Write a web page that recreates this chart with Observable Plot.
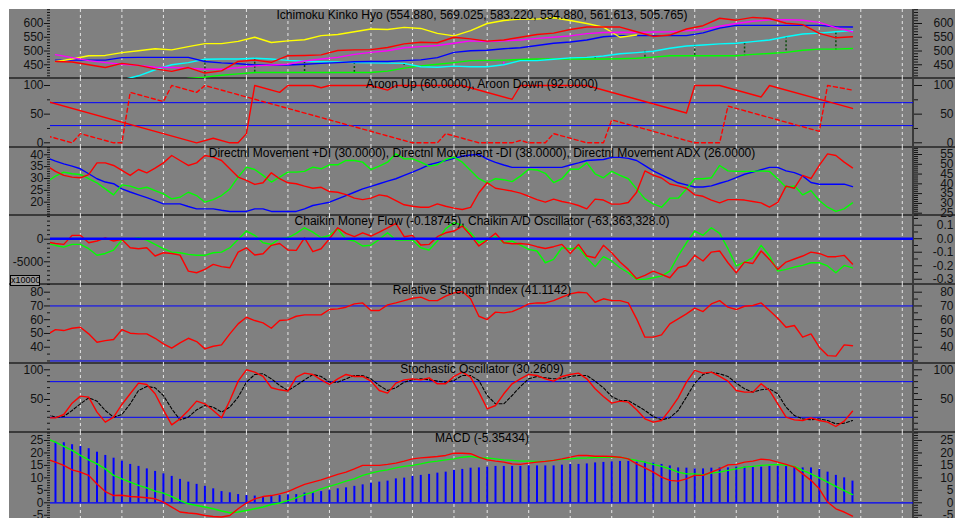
<!DOCTYPE html>
<html><head><meta charset="utf-8">
<script src="https://cdn.jsdelivr.net/npm/d3@7"></script>
<script src="https://cdn.jsdelivr.net/npm/@observablehq/plot@0.6"></script>
<style>
body{margin:0;background:#fff;}
#wrap{position:relative;width:961px;height:518px;overflow:hidden;background:#fff;}
#bg{position:absolute;left:9px;top:9px;width:946px;height:509px;background:#808080;}
.sep{position:absolute;left:9px;width:946px;height:2px;background:#3a3a3a;}
#vline{position:absolute;left:912px;top:9px;width:2px;height:509px;background:#3a3a3a;}
#mult{position:absolute;left:10px;top:275px;width:28px;height:9px;border:1px solid #000;background:#9a9a9a;font:9px 'Liberation Sans',Arial,sans-serif;line-height:9px;color:#000;overflow:hidden;text-align:left;}
svg{overflow:visible;}
</style></head>
<body><div id="wrap"><div id="bg"></div></div>
<script>
// ---------- data ----------
const idx = d3.range(-1, 97);          // bar index, -1 .. 96
const idxBars = d3.range(0, 97);
const idxEven = d3.range(0, 97, 2);    // 0,2,...,96
const gridIdx = [3,8,13,18,23,28,33,38,43,48,52,57,62,67,72,77,82,87,92,97,102];

// Ichimoku (even bars)
const ichiRed = [462,460,450,440,455,448,435,426,440,420,428,462,467,459,483,484,486,502,504,505,513,526,532,530,550,544,536,540,550,560,565,578,587,587,587,570,553,558,580,592,619,612,622,618,601,596,564,548,552];
const ichiMagenta = [487,476,465,458,452,448,441,440,438,434,434,439,446,449,452,464,471,477,488,495,501,512,516,520,528,537,534,537,540,546,550,555,563,567,568,567,569,570,573,578,590,600,608,613,614,612,604,585,570];
const ichiBlue = [467,467,467,467,476,477,477,477,477,462,457,454,449,449,449,452,455,458,461,462,462,465,468,476,495,501,503,508,512,520,528,533,540,552,556,556,556,556,556,566,583,593,593,593,593,593,593,588,587];
const ichiCyan = [null,null,null,null,395,410,432,450,458,470,471,471,474,471,466,463,461,460,458,457,456,455,443,441,445,443,443,450,465,465,470,475,477,482,490,494,499,510,518,522,526,528,534,540,552,562,565,570,574];
const ichiGreen = [null,null,null,null,null,null,null,396,400,405,412,417,422,422,422,422,422,422,422,422,427,438,446,452,458,465,466,467,469,471,471,471,471,471,472,474,478,483,483,483,483,483,488,491,495,503,507,507,509];
const ichiYellow = [462,471,483,484,494,501,508,504,516,527,527,535,550,531,537,541,556,560,570,580,578,586,582,564,555,574,600,611,616,616,621,611,600,587,550,558,null,null,null,null,null,null,null,null,null,null,null,null,null];
const cloudIdx = [18,24,30,36,42,54,59,65,71,77,83,88,94];
const cloudCyan = [470,474,462,458,455,452,467,479,499,521,529,552,566];
const cloudGreen = [405,422,422,422,445,467,471,471,474,483,483,495,503];

// Aroon (vertices)
const aroonUpIdx = [-1,17,19,21,22,23,24,27,28,31,32,33,38,40,41,49,55,56,64,76,77,80,85,86,96];
const aroonUpVal = [72,0,8,0,0,16,100,88,100,100,96,100,100,92,100,100,76,100,100,52,100,100,80,100,60];
const aroonDnIdx = [-1,0,2,3,7,8,9,13,14,17,18,43,46,47,49,51,55,56,57,59,60,64,66,67,77,80,81,92,93,96];
const aroonDnVal = [12,8,0,16,0,0,88,72,100,88,100,0,0,16,8,0,0,4,0,0,16,0,0,40,0,0,64,20,100,92];

// Directional movement (left-axis units)
const dmiRed = [35.2,33.0,31.3,30.6,30.3,31.6,36.6,36.6,35.5,33.4,31.3,33.8,32.4,34.4,36.6,39.7,37.6,35.5,36.6,39.7,39.0,37.6,34.1,30.6,29.2,27.5,28.2,32.4,29.9,28.2,27.8,26.8,25.9,26.3,24.5,24.2,23.2,21.7,21.1,21.7,23.1,22.5,20.7,18.9,18.3,17.9,17.9,19.3,18.3,17.5,16.9,17.8,24.0,28.2,25.9,25.3,24.7,23.8,22.5,21.1,20.0,21.3,20.3,19.6,18.6,17.2,21.3,20.9,19.2,19.2,19.9,24.2,33.2,31.4,30.2,27.7,26.9,25.9,23.1,22.5,20.9,19.7,21.1,21.1,20.9,20.3,19.7,17.9,19.9,26.8,25.9,31.3,30.0,35.5,40.4,39.7,36.9,34.5];
const dmiGreen = [28.7,31.0,32.7,32.0,31.7,29.9,28.2,25.6,23.1,27.3,26.8,25.6,26.3,24.9,23.5,21.4,22.1,24.2,22.8,20.0,21.1,22.8,25.6,30.6,34.8,33.8,31.3,28.5,30.6,32.7,32.7,33.0,34.8,34.1,35.8,35.8,37.6,37.6,36.9,33.8,35.2,36.9,40.4,38.3,38.3,36.9,35.2,35.8,38.0,39.0,36.9,33.4,29.9,28.2,29.9,29.5,28.7,31.0,33.9,33.6,32.2,28.3,29.9,33.9,33.9,36.6,32.0,30.3,33.0,31.3,29.9,25.6,21.4,19.3,17.9,21.7,21.7,25.6,29.9,29.9,30.3,35.5,33.2,33.0,33.0,33.0,33.2,33.0,29.9,26.3,26.9,23.1,24.9,20.7,17.9,16.1,17.2,19.7];
const dmiBlue = [38.7,37.3,36.2,35.2,34.1,32.0,29.9,28.5,27.8,25.6,24.3,23.1,21.9,20.7,19.3,19.3,19.3,18.2,17.2,17.2,17.2,16.6,16.1,16.1,16.1,17.2,17.2,16.1,16.1,16.1,16.1,17.2,18.6,19.3,20.0,21.4,22.8,24.2,25.6,26.7,27.8,28.9,29.9,31.3,32.7,34.2,35.8,36.7,37.6,38.5,39.4,39.9,40.2,38.2,36.8,35.7,34.7,34.7,34.7,34.7,34.7,34.7,34.7,35.7,36.6,37.6,37.8,38.0,38.9,38.9,38.5,37.6,35.4,33.2,31.5,29.9,28.2,27.3,26.4,26.4,26.9,28.0,29.0,30.4,31.8,32.7,33.7,34.7,34.7,33.2,32.5,31.1,28.3,27.6,27.6,27.6,27.6,26.6];

// Chaikin
const cmf = [-0.025,-0.035,-0.042,0.025,0.025,-0.03,-0.017,0.007,-0.017,-0.005,-0.067,-0.074,-0.067,-0.128,-0.104,-0.109,-0.121,-0.24,-0.252,-0.227,-0.19,-0.207,-0.215,-0.099,-0.067,-0.121,-0.111,-0.049,-0.035,-0.084,-0.086,0.007,-0.096,-0.074,0,0.081,0.04,0.015,0.044,0.02,0.049,0.081,0.114,0.015,0.025,-0.047,-0.042,0.015,0.044,0.057,0.094,0.025,-0.054,-0.01,0.04,-0.03,-0.037,-0.035,-0.042,-0.059,-0.072,-0.059,-0.042,-0.109,-0.042,-0.128,-0.141,-0.049,-0.104,-0.173,-0.227,-0.296,-0.272,-0.24,-0.264,-0.289,-0.215,-0.198,-0.123,-0.165,-0.099,-0.091,-0.178,-0.252,-0.173,-0.183,-0.091,-0.153,-0.227,-0.173,-0.15,-0.128,-0.099,-0.109,-0.133,-0.133,-0.123,-0.187];
const adOsc = [-940,-1380,-1740,-1140,-1140,-2100,-3560,-3150,-2400,-190,-40,320,-190,-1140,-2100,-2850,-3000,-3350,-3560,-3560,-3000,-2850,-1890,-40,1810,860,-790,-1140,110,320,1300,2530,1570,320,860,2320,-40,-400,-1500,-1350,-40,1420,-190,-190,-190,-1890,-2400,-400,2320,3660,3070,1420,-790,-190,560,-790,-400,-1290,-2250,-2610,-5210,-4460,-1890,-2100,-1890,-4100,-6070,-3860,-4820,-6310,-7420,-8880,-8880,-8520,-8160,-7060,-3710,-790,1810,860,2530,1300,-2100,-5920,-5060,-4100,-1350,-3710,-7060,-6670,-6160,-5800,-5210,-5210,-5920,-7420,-5800,-6340];

// RSI
const rsi = [49.2,52.8,52.1,53.8,54.5,49.7,43.6,44.8,45.6,52.8,50.2,49.7,49.7,46.5,42.4,39.3,43.2,46.5,44.1,38.8,40.7,41.7,49.7,57.0,61.8,59.4,57.7,53.8,59.4,59.9,62.5,63.5,63.5,63.5,67.4,67.9,69.1,71.5,72.2,66.7,66.7,70.8,72.2,73.9,75.6,76.4,73.9,73.9,77.1,79.5,80.5,75.2,62.5,60.1,65.5,65.0,65.9,68.4,71.5,72.2,72.2,73.9,76.4,78.8,80.0,79.5,72.7,75.2,73.9,73.9,72.2,60.6,47.3,47.3,49.0,57.0,60.6,64.2,68.4,65.9,71.5,73.9,69.1,67.4,69.8,70.3,72.2,66.7,61.1,54.5,55.8,47.3,49.7,40.0,33.9,33.5,41.7,41.1];

// Stochastic
const stochK = [19.1,19.1,24.7,43.8,55.6,53.9,28.7,11.8,20.2,41.6,59.6,77.5,75.3,59.6,32.6,7.3,17.4,31.5,47.2,42.7,31.5,19.1,48.3,80.9,100,96.0,88.8,69.7,66.3,64.0,87.6,94.4,92.1,83.1,75.3,84.8,92.1,88.8,88.8,80.9,65.2,60.7,77.5,83.1,84.8,83.1,86.5,76.4,76.4,88.8,96.0,87.6,62.4,34.3,39.9,59.6,76.4,84.8,92.1,90.4,84.8,80.9,88.8,92.1,94.4,84.8,68.0,55.1,43.8,47.2,45.5,32.6,17.4,11.8,14.6,32.6,52.8,79.2,98.9,94.4,96.0,88.8,80.9,65.2,62.4,62.4,76.4,65.2,42.7,20.2,15.7,14.6,19.1,14.6,11.8,4.5,13.5,30.3];
const stochD = [24.7,20.2,21.3,31.5,42.7,52.8,47.2,31.5,20.2,24.7,42.7,65.2,71.9,69.7,56.7,34.3,15.7,20.2,32.6,39.9,37.1,28.7,37.1,53.9,79.2,92.1,93.3,84.8,73.6,65.2,73.6,83.1,92.1,88.8,79.2,79.2,84.8,90.4,90.4,84.8,73.6,65.2,69.7,79.2,83.1,84.8,83.1,80.9,79.2,82.0,90.4,90.4,82.0,56.7,42.7,42.7,56.7,71.9,84.8,88.8,86.5,84.8,84.8,88.8,90.4,90.4,80.9,69.7,55.1,48.3,48.3,39.9,31.5,21.3,15.7,19.1,31.5,53.9,77.5,92.1,96.0,93.3,88.8,77.5,68.0,62.4,66.3,68.0,59.6,37.1,23.0,17.4,15.7,17.4,14.6,9.0,10.1,14.6];

// MACD
const macdHist = [24.3,24.1,23.3,22.6,21.7,20.3,19,17.9,16.7,15.4,14.6,13.6,12.6,11.6,10.6,9.4,8.3,7.4,6.6,5.6,4.5,4,3.3,2.9,2.7,2.5,2.8,2.9,3.2,3.3,3.9,4.1,4.5,4.9,5.6,6,6.6,7.2,7.9,8.3,8.7,9.6,9.9,10.6,11,11.4,11.9,12.3,13,13.4,13.9,14,14.3,14.6,14.6,14.6,14.6,14.8,14.8,14.8,14.8,15.1,15.4,15.4,15.6,16,16.2,16.4,16.6,16.6,16.3,16.3,16,15.4,14.8,14,13.9,13.6,13.6,13.9,14,14,14.3,14.3,14.3,14.3,14.6,14.6,14.6,14.3,14,14,13.4,12.3,11,10,8.7];
const macdLine = [17.4,16.3,15.0,13.2,12.3,11.0,7.5,4.5,2.9,3.0,2.5,2.3,2.0,1.6,0.3,-1.7,-3.7,-4.1,-4.4,-5.1,-5.5,-5.7,-5.1,-2.4,-0.1,1.6,2.5,2.9,3.6,4.5,6.0,7.4,8.3,9.2,10.3,11.4,12.3,13.6,15.0,15.0,15.0,15.4,15.9,16.7,17.6,18.0,18.3,18.6,19.0,19.9,19.9,19.7,18.3,17.2,16.7,16.3,15.6,15.4,15.9,16.3,16.6,17.0,17.6,18.3,19.0,19.0,18.7,18.7,18.6,18.3,17.6,15.6,14.0,12.3,10.3,9.0,8.7,9.6,11.0,11.0,12.3,13.6,15.2,15.4,16.3,16.7,17.5,17.2,16.3,15.4,14.3,11.6,9.0,5.6,0.3,-2.4,-3.7,-5.35];
const macdSignal = [25.7,24.3,22.6,21.0,19.0,17.2,15.6,13.6,11.0,9.6,8.3,7.0,6.0,4.7,3.9,2.5,0.9,-0.4,-1.1,-1.7,-2.4,-3.3,-4.0,-3.7,-3.1,-2.4,-1.7,-0.7,-0.1,0.9,2.0,3.3,4.3,5.6,6.6,7.6,8.7,9.6,11.0,11.9,12.7,13.2,14.0,14.6,15.0,15.6,16.3,16.7,17.2,17.6,18.3,18.6,18.0,18.0,17.6,17.2,17.0,16.7,16.7,16.6,16.6,17.0,17.4,17.6,17.9,18.0,18.2,18.3,18.3,18.3,17.6,17.0,16.3,15.4,14.6,13.6,12.3,11.6,11.6,11.2,11.9,12.3,13.0,13.6,14.3,14.6,15.0,15.2,15.4,15.0,14.6,13.0,11.6,10.0,8.3,6.6,4.9,3.3];

const titles = [
  "Ichimoku Kinko Hyo (554.880, 569.025, 583.220, 554.880, 561.613, 505.765)",
  "Aroon Up (60.0000), Aroon Down (92.0000)",
  "Directnl Movement +DI (30.0000), Directnl Movement -DI (38.0000), Directnl Movement ADX (26.0000)",
  "Chaikin Money Flow (-0.18745), Chaikin A/D Oscillator (-63,363,328.0)",
  "Relative Strength Index (41.1142)",
  "Stochastic Oscillator (30.2609)",
  "MACD (-5.35434)"
];

// ---------- drawing ----------
const FONT = "'Liberation Sans', Arial, Helvetica, sans-serif";
const INK = "#121212";
const GRID = "#e6e6e6";
const LW = 1.4;
const XDOM = [-0.6, 103.35];
const wrap = document.getElementById("wrap");
const rows = (xs, ys) => xs.map((x, k) => ({x, y: ys[k]}));
const range = (a, b, s) => d3.range(a, b + s / 2, s);

function axisMarks(major, minor, anchor, fmt) {
  const L = anchor === "left";
  return [
    Plot.axisY(minor, {anchor, label: null, tickSize: L ? 3 : 4, stroke: INK, fill: "none"}),
    Plot.axisY(major, {anchor, label: null, tickSize: L ? 6 : 8, tickPadding: L ? 1 : 32, textAnchor: "end",
      tickFormat: fmt || (d => String(d)), stroke: INK, fill: INK, fontSize: 12})
  ];
}
const grid = () => Plot.ruleX(gridIdx, {stroke: GRID, strokeDasharray: "3,3", strokeWidth: 1});
const title = t => Plot.text([t], {text: d => d, frameAnchor: "top", lineAnchor: "middle", dy: 6, fill: "#000", fontSize: 12});
const ln = (xs, ys, stroke, extra = {}) => Plot.line(rows(xs, ys), {x: "x", y: "y", stroke, strokeWidth: LW, clip: true, ...extra});

function panel(top, h, domain, marks) {
  const svg = Plot.plot({
    width: 961, height: h,
    marginLeft: 50, marginRight: 48, marginTop: 0, marginBottom: 0,
    x: {domain: XDOM, axis: null},
    y: {domain, axis: null},
    style: {background: "transparent", overflow: "visible", fontFamily: FONT, fontSize: "12px", color: INK},
    marks
  });
  svg.style.position = "absolute";
  svg.style.left = "0px";
  svg.style.top = top + "px";
  wrap.appendChild(svg);
}

// separators and right axis line
[78,147,215,284,363,432].forEach(y => {
  const d = document.createElement("div"); d.className = "sep"; d.style.top = (y - 1) + "px"; wrap.appendChild(d);
});
const vl = document.createElement("div"); vl.id = "vline"; wrap.appendChild(vl);

// 1 Ichimoku
{
  const cloud = cloudIdx.map((x, k) => ({x, a: cloudCyan[k], b: cloudGreen[k]}));
  const maj = [450,500,550,600], mn = range(410, 650, 10).filter(v => !maj.includes(v));
  panel(9, 69, [400.2, 650.8], [
    grid(),
    Plot.ruleX(cloud.filter(d => d.a >= d.b), {x: "x", y1: "a", y2: "b", stroke: "#0b4d0b", strokeWidth: 1.5, strokeDasharray: "2,2"}),
    Plot.ruleX(cloud.filter(d => d.a < d.b), {x: "x", y1: "a", y2: "b", stroke: "#ff00ff", strokeWidth: 1.5, strokeDasharray: "2,2"}),
    ln(idxEven, ichiGreen, "#00ff00"),
    ln(idxEven, ichiCyan, "#00ffff"),
    ln(idxEven, ichiBlue, "#0000ff"),
    ln(idxEven, ichiYellow, "#ffff00"),
    ln(idxEven, ichiMagenta, "#ff00ff"),
    ln(idxEven, ichiRed, "#ff0000"),
    ...axisMarks(maj, mn, "left"),
    ...axisMarks(maj, mn, "right"),
    title(titles[0])
  ]);
}
// 2 Aroon
{
  const maj = [0,50,100], mn = [25,75];
  panel(78, 69, [-8.2, 112.2], [
    grid(),
    Plot.ruleY([70, 30], {stroke: "#0000ff", strokeWidth: 1}),
    ln(aroonDnIdx, aroonDnVal, "#ff0000", {strokeDasharray: "4,3"}),
    ln(aroonUpIdx, aroonUpVal, "#ff0000"),
    ...axisMarks(maj, mn, "left"),
    ...axisMarks(maj, mn, "right"),
    title(titles[1])
  ]);
}
// 3 DMI
{
  const maj = [20,25,30,35,40], mn = range(15, 43, 1).filter(v => !maj.includes(v));
  panel(147, 68, [14.39, 43.08], [
    grid(),
    ln(idx, dmiBlue, "#0000ff"),
    ln(idx, dmiGreen, "#00ff00"),
    ln(idx, dmiRed, "#ff0000"),
    ...axisMarks(maj, mn, "left"),
    title(titles[2])
  ]);
  const majR = [25,30,35,40,45,50,55], mnR = range(24, 58, 1).filter(v => !majR.includes(v));
  panel(147, 68, [23.82, 58.58], [...axisMarks(majR, mnR, "right")]);
}
// 4 Chaikin
{
  const maj = [0,-5000], mn = range(-10000, 5000, 1000).filter(v => !maj.includes(v));
  panel(215, 69, [-10020, 5243], [
    grid(),
    ln(idx, adOsc, "#00ff00"),
    ...axisMarks(maj, mn, "left"),
  ]);
  const majR = [0.1, 0, -0.1, -0.2, -0.3], mnR = [0.15, 0.05, -0.05, -0.15, -0.25];
  panel(215, 69, [-0.339, 0.172], [
    ln(idx, cmf, "#ff0000"),
    Plot.ruleY([0], {stroke: "#0000ff", strokeWidth: 2.5}),
    ...axisMarks(majR, mnR, "right", d => d.toFixed(1)),
    title(titles[3])
  ]);
}
// 5 RSI
{
  const maj = [40,50,60,70,80], mn = [30,35,45,55,65,75];
  panel(284, 79, [28.15, 85.6], [
    grid(),
    Plot.ruleY([70, 30], {stroke: "#0000ff", strokeWidth: 1}),
    ln(idx, rsi, "#ff0000"),
    ...axisMarks(maj, mn, "left"),
    ...axisMarks(maj, mn, "right"),
    title(titles[4])
  ]);
}
// 6 Stochastic
{
  const maj = [50,100], mn = [0,10,20,30,40,60,70,80,90];
  panel(363, 69, [-5.6, 110.6], [
    grid(),
    Plot.ruleY([80, 20], {stroke: "#0000ff", strokeWidth: 1}),
    ln(idx, stochD, "#000000", {strokeDasharray: "3,2", strokeWidth: 1.1}),
    ln(idx, stochK, "#ff0000"),
    ...axisMarks(maj, mn, "left"),
    ...axisMarks(maj, mn, "right"),
    title(titles[5])
  ]);
}
// 7 MACD
{
  const maj = [-5,0,5,10,15,20,25], mn = range(-6, 28, 1).filter(v => !maj.includes(v));
  panel(432, 86, [-6.3, 28.2], [
    grid(),
    Plot.ruleX(rows(idxBars, macdHist), {x: "x", y1: 0, y2: "y", stroke: "#0000ff", strokeWidth: 2}),
    Plot.ruleY([0], {stroke: "#0000ff", strokeWidth: 1.2}),
    ln(idx, macdSignal, "#00ff00"),
    ln(idx, macdLine, "#ff0000"),
    ...axisMarks(maj, mn, "left"),
    ...axisMarks(maj, mn, "right"),
    title(titles[6])
  ]);
}
// multiplier label
const m = document.createElement("div"); m.id = "mult"; m.textContent = "x10000"; wrap.appendChild(m);
</script>
</body></html>
